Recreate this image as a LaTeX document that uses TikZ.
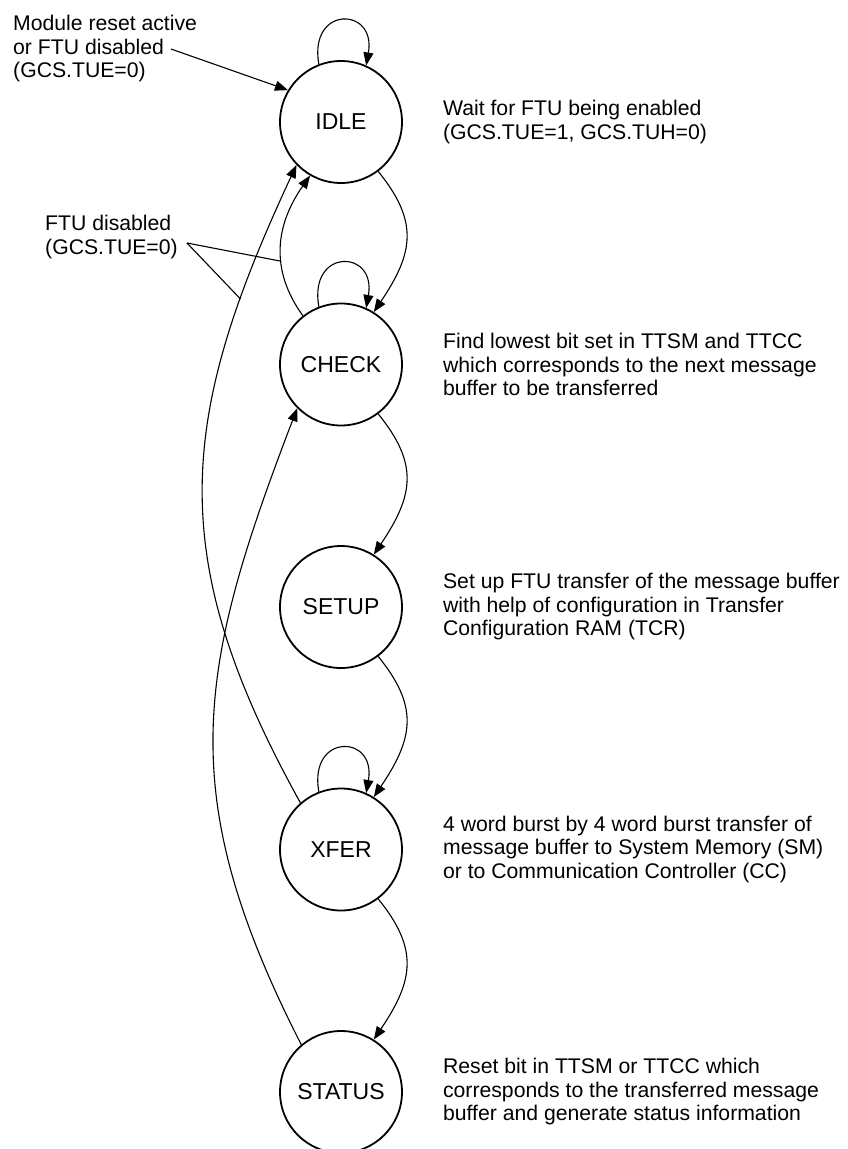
\documentclass[tikz,border=0pt]{standalone}
\usepackage{fontspec}
\setmainfont{Liberation Sans}
\usetikzlibrary{arrows.meta,positioning}
\tikzset{
  fsmstate/.style={draw, circle, line width=1.8pt, outer sep=0.9pt,
    minimum size=122pt, inner sep=0pt, font=\fontsize{23}{27}\selectfont},
  fsmnote/.style={align=left, inner sep=0pt, font=\fontsize{21.2}{23.5}\selectfont},
  trans/.style={-{Triangle[length=13pt,width=10pt]}, line width=1.1pt},
  pointer/.style={line width=1.1pt},
}

\begin{document}
\begin{tikzpicture}[x=1pt, y=1pt, node distance=118.7pt]
  \useasboundingbox (0,0) rectangle (847,-1149);
  % states
  \node[fsmstate] (idle) at (341,-122) {IDLE};
  \node[fsmstate, below=of idle] (check) {CHECK};
  \node[fsmstate, below=of check] (setup) {SETUP};
  \node[fsmstate, below=of setup] (xfer) {XFER};
  \node[fsmstate, below=of xfer] (status) {STATUS};

  % descriptions
  \node[fsmnote, right=40pt of idle] (idle note)
    {Wait for FTU being enabled\\(GCS.TUE=1, GCS.TUH=0)};
  \node[fsmnote, right=40pt of check] (check note)
    {Find lowest bit set in TTSM and TTCC\\which corresponds to the next message\\buffer to be transferred};
  \node[fsmnote, right=40pt of setup] (setup note)
    {Set up FTU transfer of the message buffer\\with help of configuration in Transfer\\Configuration RAM (TCR)};
  \node[fsmnote, right=40pt of xfer] (xfer note)
    {4 word burst by 4 word burst transfer of\\message buffer to System Memory (SM)\\or to Communication Controller (CC)};
  \node[fsmnote, right=40pt of status] (status note)
    {Reset bit in TTSM or TTCC which\\corresponds to the transferred message\\buffer and generate status information};

  % conditions
  \node[fsmnote, anchor=north west] (reset note) at (13,-15)
    {Module reset active\\or FTU disabled\\(GCS.TUE=0)};
  \node[fsmnote, anchor=north west] (ftu note) at (45,-215)
    {FTU disabled\\(GCS.TUE=0)};
  \coordinate (reset start) at (171,-49);
  \coordinate (ftu fork) at (187,-243);

  \draw[trans] (reset start) -- (idle.149);

  % self loops
  \draw[trans] (idle.111) .. controls +(100:60) and +(80:60) .. (idle.66);
  \draw[trans] (check.111) .. controls +(100:60) and +(80:60) .. (check.66);
  \draw[trans] (xfer.111) .. controls +(100:60) and +(80:60) .. (xfer.66);

  % forward
  \draw[trans] (idle.-53) .. controls +(-51:64) and +(56:72) .. (check.58);
  \draw[trans] (check.-53) .. controls +(-51:64) and +(56:72) .. (setup.58);
  \draw[trans] (setup.-53) .. controls +(-51:64) and +(56:72) .. (xfer.58);
  \draw[trans] (xfer.-53) .. controls +(-51:64) and +(56:72) .. (status.58);

  % back
  \draw[trans] (check.128) .. controls +(126:56) and +(235:61) .. (idle.240)
    coordinate[pos=0.4] (back check);
  \draw[trans] (xfer.131) .. controls +(119:281) and +(245:281) .. (idle.224)
    coordinate[pos=0.81] (back xfer);
  \draw[trans] (status.130) .. controls +(117:281) and +(249:281) .. (check.225);

  \draw[pointer] (ftu fork) -- (back check);
  \draw[pointer] (ftu fork) -- (back xfer);
\end{tikzpicture}
\end{document}
